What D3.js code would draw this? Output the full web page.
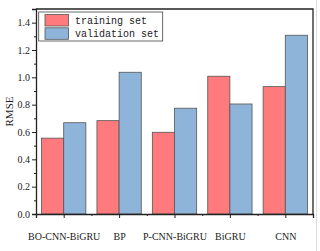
<!DOCTYPE html>
<html>
<head>
<meta charset="utf-8">
<script src="https://cdn.jsdelivr.net/npm/d3@7"></script>
<style>
  body { margin: 0; background: #fff; }
  svg { display: block; }
</style>
</head>
<body>
<div id="chart"></div>
<script>
// Data
const categories = ["BO-CNN-BiGRU", "BP", "P-CNN-BiGRU", "BiGRU", "CNN"];
const trainingSet = [0.555, 0.683, 0.598, 1.008, 0.932];
const validationSet = [0.668, 1.037, 0.774, 0.805, 1.308];
const seriesNames = ["training set", "validation set"];
const yTicks = [0.0, 0.2, 0.4, 0.6, 0.8, 1.0, 1.2, 1.4];

const W = 320, H = 251;
const margin = { top: 9, right: 7, bottom: 37, left: 36 };
const width = W - margin.left - margin.right;
const height = H - margin.top - margin.bottom;
const colors = ["#FF7A7C", "#8FB4DA"];

const svg = d3.select("#chart").append("svg")
  .attr("width", W).attr("height", H);

// faint image edge on the right
svg.append("line")
  .attr("x1", 316.5).attr("x2", 316.5).attr("y1", 0).attr("y2", H)
  .attr("stroke", "#ddd").attr("stroke-width", 1);

const g = svg.append("g")
  .attr("transform", `translate(${margin.left},${margin.top})`);

// x is linear over category index so ticks sit at group centres
const x = d3.scaleLinear().domain([0.5, categories.length + 0.5]).range([0, width]);
const y = d3.scaleLinear().domain([0, 1.5]).range([height, 0]);
const step = x(2) - x(1);
const barW = step * 0.4;

const series = [trainingSet, validationSet];
series.forEach((vals, s) => {
  g.selectAll(".bar" + s)
    .data(vals)
    .enter().append("rect")
    .attr("x", (d, i) => x(i + 1) - barW + s * barW)
    .attr("y", d => y(d))
    .attr("width", barW)
    .attr("height", d => y(0) - y(d))
    .attr("fill", colors[s])
    .attr("stroke", "#555")
    .attr("stroke-width", 0.8);
});

// frame (top and right)
g.append("path")
  .attr("d", `M0,0H${width}V${height}`)
  .attr("fill", "none").attr("stroke", "#222").attr("stroke-width", 1.3);

// y axis
g.append("g")
  .call(d3.axisLeft(y).tickValues(yTicks).tickFormat(d3.format(".1f")).tickSize(4).tickPadding(2));
g.append("g")
  .call(d3.axisLeft(y).tickValues(d3.range(0.1, 1.5, 0.2)).tickSize(2).tickFormat(""))
  .select(".domain").remove();

// x axis
g.append("g")
  .attr("transform", `translate(0,${height})`)
  .call(d3.axisBottom(x).tickValues(d3.range(1, categories.length + 1))
    .tickFormat(d => categories[d - 1]).tickSize(4).tickPadding(15));
g.append("g")
  .attr("transform", `translate(0,${height})`)
  .call(d3.axisBottom(x).tickValues(d3.range(1.5, categories.length + 1, 1)).tickSize(2).tickFormat(""))
  .select(".domain").remove();

g.selectAll(".domain").attr("stroke", "#222").attr("stroke-width", 1.3);
g.selectAll(".tick line").attr("stroke", "#222").attr("stroke-width", 1);
g.selectAll(".tick text")
  .attr("fill", "#222")
  .style("font-family", "'Liberation Serif', 'Times New Roman', serif")
  .style("font-size", "10px");

// y title
svg.append("text")
  .attr("transform", `translate(13,${margin.top + y(0.75)}) rotate(-90)`)
  .attr("text-anchor", "middle")
  .style("font-family", "'Liberation Serif', 'Times New Roman', serif")
  .style("font-size", "11px")
  .attr("fill", "#222")
  .text("RMSE");

// legend
const lg = svg.append("g");
lg.append("rect")
  .attr("x", 38.7).attr("y", 12).attr("width", 124).attr("height", 29)
  .attr("fill", "#fff").attr("stroke", "#444").attr("stroke-width", 0.8);
seriesNames.forEach((name, i) => {
  lg.append("rect")
    .attr("x", 45).attr("y", 14.5 + i * 13.3).attr("width", 23.5).attr("height", 11.5)
    .attr("fill", colors[i]).attr("stroke", "#555").attr("stroke-width", 0.8);
  lg.append("text")
    .attr("x", 75).attr("y", 24 + i * 13.3)
    .style("font-family", "'Liberation Mono', 'DejaVu Sans Mono', monospace")
    .style("font-size", "10px")
    .attr("fill", "#222")
    .text(name);
});
</script>
</body>
</html>
